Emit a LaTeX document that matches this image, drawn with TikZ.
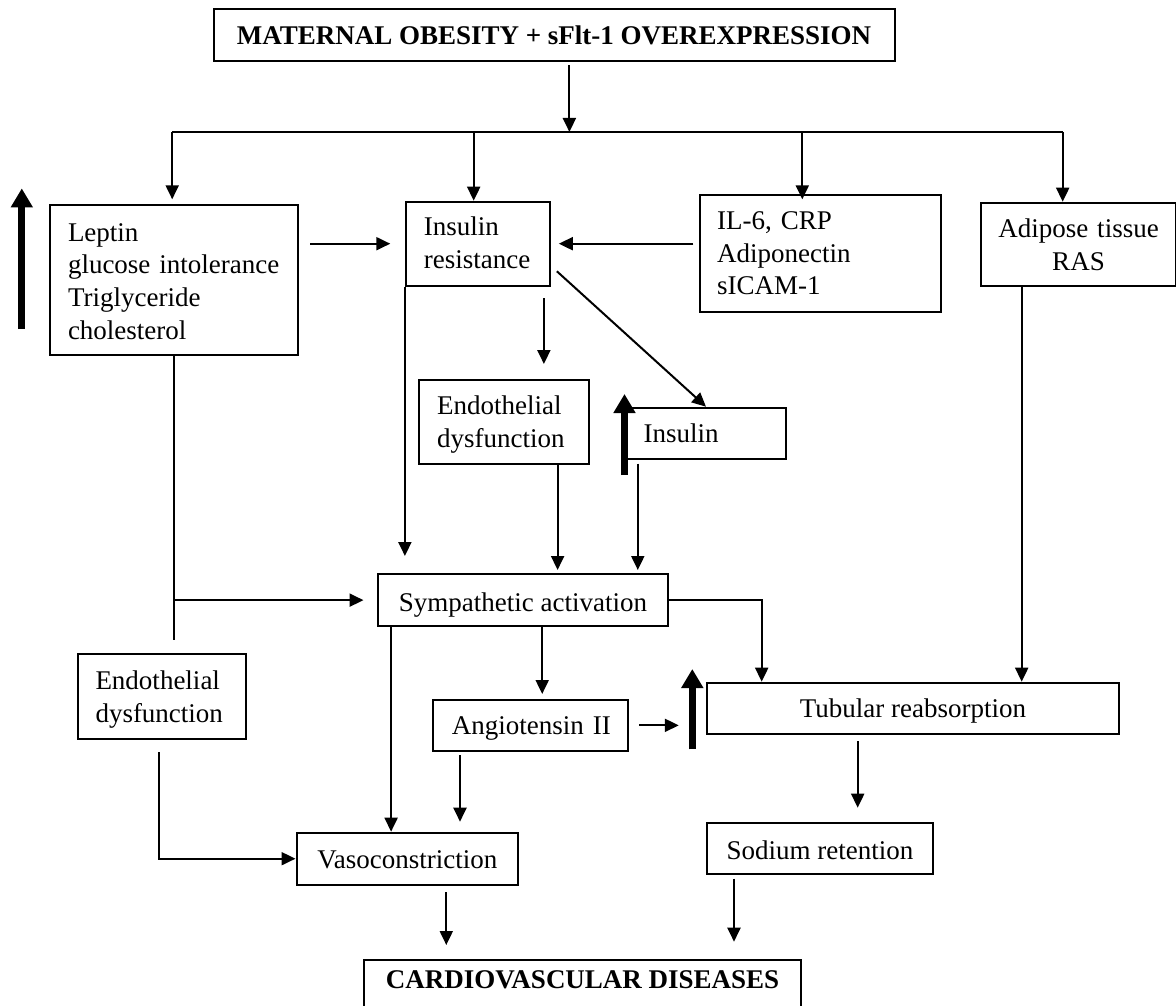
\documentclass[tikz,border=0pt]{standalone}
\usepackage{fontspec}
\setmainfont{Liberation Serif}
\usetikzlibrary{arrows.meta}

\tikzset{
  box/.style={draw, line width=2pt, rectangle, inner ysep=0pt, anchor=north west,
    font=\fontsize{27}{32.8}\selectfont},
  cbox/.style={box, inner xsep=0pt, align=center},
  lbox/.style={box, align=left},
  conn/.style={line width=2pt},
  arr/.style={conn, -{Triangle[length=14pt,width=13pt]}},
  bigup/.style={line width=7pt, -{Triangle[length=19pt,width=21pt]}},
}

\begin{document}
\begin{tikzpicture}[x=1pt,y=-1pt]
\fill[white] (0,0) rectangle (1176,1006);
\useasboundingbox (0,0) rectangle (1176,1006);

% ---- boxes ----
\node[cbox, minimum width=681.1pt, text height=35.3pt, text depth=16.7pt,
      font=\fontsize{27}{32.8}\selectfont\bfseries] (top) at (212.5,8)
  {MATERNAL OBESITY + sFlt-1 OVEREXPRESSION};

\node[lbox, inner xsep=18.4pt, text width=211.9pt, text height=36pt, text depth=114pt]
  (lep) at (48.6,204) {Leptin\\\mbox{glucose intolerance}\\Triglyceride\\cholesterol};

\node[lbox, inner xsep=17.9pt, text width=108pt, text height=34.3pt, text depth=49.7pt]
  (ir) at (404.9,200.7) {Insulin\\resistance};

\node[lbox, inner xsep=17.5pt, text width=206pt, text height=34.3pt, text depth=82.4pt]
  (il) at (698.6,194) {\mbox{IL-6, CRP}\\Adiponectin\\sICAM-1};

\node[cbox, text width=195pt, text height=35pt, text depth=48.6pt]
  (adi) at (980,201.7) {\mbox{Adipose tissue}\\RAS};

\node[lbox, inner xsep=17.9pt, text width=133.7pt, text height=34.3pt, text depth=50pt]
  (endo) at (418.3,379) {Endothelial\\dysfunction};

\node[lbox, inner xsep=17.9pt, text width=124.6pt, text height=35pt, text depth=16pt]
  (ins) at (624.8,406.7) {Insulin};

\node[cbox, minimum width=289.4pt, text height=36.7pt, text depth=15pt]
  (sym) at (377.3,573.3) {Sympathetic activation};

\node[lbox, inner xsep=18pt, text width=132.8pt, text height=35.6pt, text depth=49.4pt]
  (el) at (76.5,652.7) {Endothelial\\dysfunction};

\node[lbox, inner xsep=18.4pt, text width=157.5pt, text height=34.6pt, text depth=16.7pt]
  (ang) at (432.4,698.7) {\mbox{Angiotensin II}};

\node[cbox, minimum width=411.6pt, text height=34.3pt, text depth=16.7pt]
  (tub) at (706.2,681.7) {Tubular reabsorption};

\node[cbox, minimum width=225.4pt, text height=36.3pt, text depth=15pt]
  (sod) at (706.2,822) {Sodium retention};

\node[cbox, minimum width=221.6pt, text height=35.6pt, text depth=16.4pt]
  (vaso) at (295.5,831.7) {Vasoconstriction};

\node[cbox, minimum width=436.7pt, text height=28.7pt, text depth=28pt,
      font=\fontsize{27}{32.8}\selectfont\bfseries]
  (cvd) at (363.3,959) {CARDIOVASCULAR DISEASES};

% ---- distribution bus under the title ----
\coordinate (bus) at (569.4,132);
\coordinate (busA) at (172.2,132);
\coordinate (busB) at (473.7,132);
\coordinate (busC) at (802.3,132);
\coordinate (busD) at (1062.7,132);
\draw[arr, shorten <=3.3pt] (top.south -| bus) -- (bus);
\draw[conn] (busA) -- (busD);
\draw[arr, shorten >=4.7pt] (busA) -- (busA |- lep.north);
\draw[arr] (busB) -- (busB |- ir.north);
\draw[arr, shorten >=-5.3pt] (busC) -- (busC |- il.north);
\draw[arr] (busD) -- (busD |- adi.north);

% ---- upper row ----
\draw[arr, shorten <=11.1pt, shorten >=14.6pt] (lep.east |- ir.west) -- (ir.west);
\draw[arr, shorten <=5.3pt, shorten >=8.1pt] (il.west |- ir.east) -- (ir.east);
\path (ir.south east) ++(6.2,-15.4) coordinate (irdiag);
\draw[arr] (irdiag) -- (ins.north);
\path (ir.south east) ++(-6.8,0) coordinate (irdn);
\draw[arr, shorten <=11.3pt, shorten >=15pt] (irdn) -- (irdn |- endo.north);
\draw[arr, shorten >=17.3pt] (ir.south west) -- (ir.south west |- sym.north);
\path (endo.south east) ++(-32.2,0) coordinate (emdn);
\draw[arr, shorten >=3.3pt] (emdn) -- (emdn |- sym.north);
\path (ins.south west) ++(13,0) coordinate (insdn);
\draw[arr, shorten <=4pt, shorten >=3.3pt] (insdn) -- (insdn |- sym.north);

% ---- left column ----
\path (lep.south |- el.north) ++(0,-12.7) coordinate (lepend);
\draw[conn] (lep.south) -- (lepend);
\draw[arr, shorten >=13.8pt] (lep.south |- sym.west) -- (sym.west);
\path (el.south west) ++(82,0) coordinate (eldn);
\draw[arr, shorten <=12.3pt] (eldn) |- (vaso.west);

% ---- sympathetic activation outputs ----
\path (tub.north west) ++(55.5,0) coordinate (symtub);
\draw[arr] (sym.east) -| (symtub);
\path (adi.south west) ++(41.7,0) coordinate (adidn);
\draw[arr] (adidn) -- (adidn |- tub.north);
\path (ang.north west) ++(109.8,0) coordinate (symang);
\draw[arr, shorten >=4.7pt] (symang |- sym.south) -- (symang);
\path (sym.south west) ++(13.8,0) coordinate (symvaso);
\draw[arr] (symvaso) -- (symvaso |- vaso.north);
\path (ang.south west) ++(27.6,0) coordinate (angdn);
\draw[arr, shorten <=3.3pt, shorten >=10pt] (angdn) -- (angdn |- vaso.north);
\draw[arr, shorten <=10.3pt, shorten >=27.4pt] (ang.east) -- (ang.east -| tub.west);

% ---- lower outputs ----
\path (tub.south west) ++(151.5,0) coordinate (tubdn);
\draw[arr, shorten <=6.6pt, shorten >=14.3pt] (tubdn) -- (tubdn |- sod.north);
\path (sod.south west) ++(27.8,0) coordinate (soddn);
\draw[arr, shorten <=3.4pt, shorten >=17.3pt] (soddn) -- (soddn |- cvd.north);
\path (vaso.south west) ++(150.8,0) coordinate (vasodn);
\draw[arr, shorten <=6.3pt, shorten >=14pt] (vasodn) -- (vasodn |- cvd.north);

% ---- "increase" markers ----
\draw[bigup] (21.8,329) -- (21.8,188.4);
\draw[bigup] (624.5,475) -- (624.5,394);
\draw[bigup] (692.3,749.3) -- (692.3,669);
\end{tikzpicture}
\end{document}
